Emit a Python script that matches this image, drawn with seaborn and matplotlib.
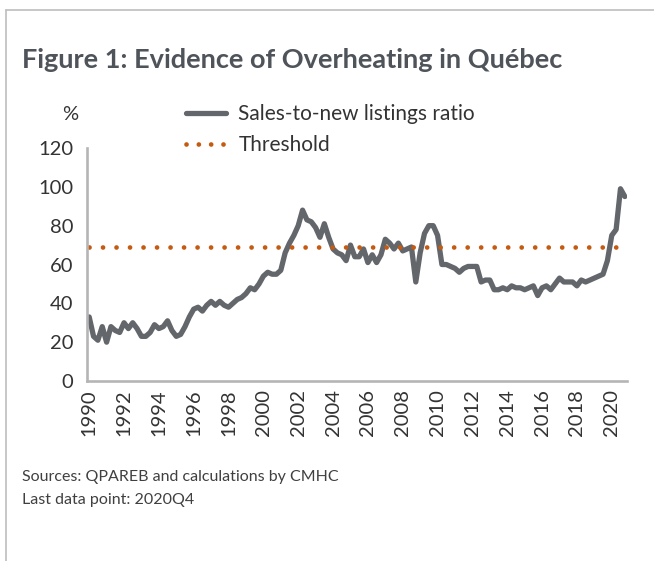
import matplotlib
matplotlib.use("Agg")
import matplotlib.pyplot as plt
from matplotlib.lines import Line2D
import numpy as np
import pandas as pd
import seaborn as sns

# Quarterly sales-to-new listings ratio, Québec, 1990Q1 - 2020Q4 (%)
snlr = [
    33, 23, 21, 28, 20, 28, 26, 25,      # 1990-1991
    30, 27, 30, 27, 23, 23, 25, 29,      # 1992-1993
    27, 28, 31, 26, 23, 24, 28, 33,      # 1994-1995
    37, 38, 36, 39, 41, 39, 41, 39,      # 1996-1997
    38, 40, 42, 43, 45, 48, 47, 50,      # 1998-1999
    54, 56, 55, 55, 57, 66, 71, 75,      # 2000-2001
    80, 88, 83, 82, 79, 74, 81, 74,      # 2002-2003
    68, 66, 65, 62, 70, 64, 64, 68,      # 2004-2005
    61, 65, 61, 65, 73, 71, 68, 71,      # 2006-2007
    67, 68, 69, 51, 66, 76, 80, 80,      # 2008-2009
    75, 60, 60, 59, 58, 56, 58, 59,      # 2010-2011
    59, 59, 51, 52, 52, 47, 47, 48,      # 2012-2013
    47, 49, 48, 48, 47, 48, 49, 44,      # 2014-2015
    48, 49, 47, 50, 53, 51, 51, 51,      # 2016-2017
    49, 52, 51, 52, 53, 54, 55, 62,      # 2018-2019
    75, 78, 99, 95,                      # 2020
]
threshold = 69
years = list(range(1990, 2021, 2))
y_ticks = [0, 20, 40, 60, 80, 100, 120]

quarter = np.arange(len(snlr))
df = pd.DataFrame({
    "quarter": quarter,
    "snlr": snlr,
    "threshold": [threshold] * len(snlr),
})

sns.set_theme(style="white")
plt.rcParams["font.family"] = ["Lato", "DejaVu Sans"]

W, H = 654, 561
fig = plt.figure(figsize=(W / 100, H / 100), dpi=100)
ax = fig.add_axes([87 / W, 1 - 381 / H, (627 - 87) / W, (381 - 148) / H])

line_grey = "#63666a"
orange = "#c55a11"
text_col = "#333333"

sns.lineplot(data=df, x="quarter", y="snlr", ax=ax, color=line_grey,
             linewidth=3.8, label="Sales-to-new listings ratio",
             solid_joinstyle="round", solid_capstyle="round")
sns.lineplot(data=df, x="quarter", y="threshold", ax=ax, color=orange,
             linewidth=3.4, label="Threshold",
             linestyle=(0, (0.01, 2.85)), dash_capstyle="round")

ax.set_xlim(-0.5, len(snlr) - 0.5)
ax.set_ylim(0, 120)
ax.set_yticks(y_ticks)
ax.set_yticklabels([str(v) for v in y_ticks], fontsize=14.5, color=text_col)
ax.set_xticks([(y - 1990) * 4 for y in years])
ax.set_xticklabels([str(y) for y in years], rotation=90, fontsize=14.5,
                   color=text_col)
ax.tick_params(axis="both", length=0)
ax.tick_params(axis="y", pad=10)
ax.tick_params(axis="x", pad=6)
ax.set_xlabel("")
ax.set_ylabel("")

for side in ("top", "right"):
    ax.spines[side].set_visible(False)
for side in ("left", "bottom"):
    ax.spines[side].set_color("#b5b5b5")
    ax.spines[side].set_linewidth(1.9)

ax.legend_.remove()
handles = [
    Line2D([], [], color=line_grey, linewidth=3.8, solid_capstyle="round"),
    Line2D([], [], color=orange, linewidth=3.4, linestyle=(0, (0.01, 2.6)),
           dash_capstyle="round"),
]
fig.legend(handles, ["Sales-to-new listings ratio", "Threshold"],
           loc="upper left", bbox_to_anchor=(176 / W, 1 - 94 / H),
           frameon=False, fontsize=15, handlelength=1.9, handletextpad=0.6,
           labelspacing=0.5, labelcolor=text_col, borderpad=0)

# Titles, unit and notes
fig.text(22 / W, 1 - 60 / H, "Figure 1: Evidence of Overheating in Québec",
         fontsize=19.5, fontweight="bold", color="#4f545a", va="center",
         ha="left")
fig.text(70 / W, 1 - 115 / H, "%", fontsize=14.5, color=text_col,
         va="center", ha="center")
fig.text(22 / W, 1 - 477 / H, "Sources: QPAREB and calculations by CMHC",
         fontsize=11.5, color="#404040", va="center", ha="left")
fig.text(22 / W, 1 - 500 / H, "Last data point: 2020Q4",
         fontsize=11.5, color="#404040", va="center", ha="left")

# Frame lines along the top and left edges
border = "#bdbdbd"
fig.add_artist(Line2D([6 / W, 1], [1 - 10 / H, 1 - 10 / H],
                      transform=fig.transFigure, color=border, linewidth=1.2))
fig.add_artist(Line2D([6 / W, 6 / W], [0, 1 - 10 / H],
                      transform=fig.transFigure, color=border, linewidth=1.2))

fig.savefig("out.png", dpi=100)
